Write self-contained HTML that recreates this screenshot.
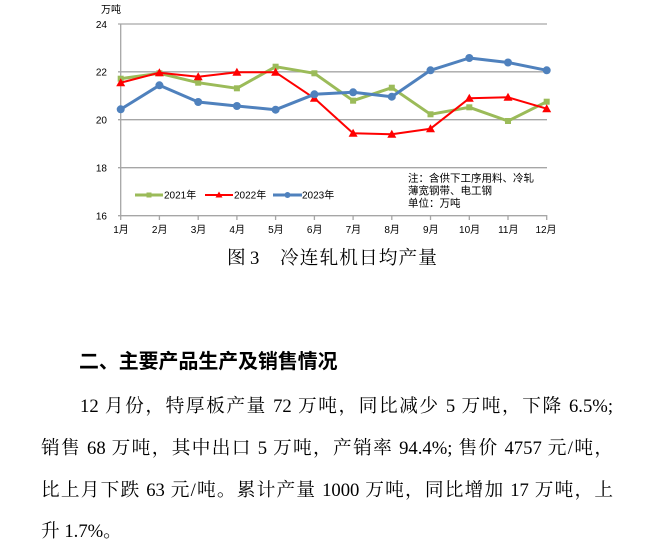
<!DOCTYPE html>
<html><head><meta charset="utf-8">
<style>
html,body{margin:0;padding:0;background:#fff;}
body{width:647px;height:549px;position:relative;overflow:hidden;}
.t{position:absolute;font-family:"Liberation Serif","Noto Serif CJK SC",serif;font-size:18.67px;line-height:20px;color:#000;white-space:nowrap;}
.j{text-align:justify;text-align-last:justify;white-space:normal;}
.h{position:absolute;left:79px;top:351px;font-family:"Liberation Sans","Noto Sans CJK SC",sans-serif;font-weight:bold;font-size:19.9px;line-height:22px;color:#000;white-space:nowrap;}
</style></head>
<body>
<svg width="647" height="280" style="position:absolute;left:0;top:0" xmlns="http://www.w3.org/2000/svg">
<g stroke="#a6a6a6" stroke-width="1.3" fill="none">
<line x1="118" y1="24" x2="547" y2="24"/>
<line x1="118" y1="71.8" x2="547" y2="71.8"/>
<line x1="118" y1="119.7" x2="547" y2="119.7"/>
<line x1="118" y1="167.7" x2="547" y2="167.7"/>
<line x1="118" y1="215.7" x2="547" y2="215.7"/>
<line x1="120.7" y1="24" x2="120.7" y2="216"/>
<line x1="120.7" y1="215" x2="120.7" y2="220"/>
<line x1="159.4" y1="215" x2="159.4" y2="220"/>
<line x1="198.2" y1="215" x2="198.2" y2="220"/>
<line x1="236.9" y1="215" x2="236.9" y2="220"/>
<line x1="275.6" y1="215" x2="275.6" y2="220"/>
<line x1="314.4" y1="215" x2="314.4" y2="220"/>
<line x1="353.1" y1="215" x2="353.1" y2="220"/>
<line x1="391.8" y1="215" x2="391.8" y2="220"/>
<line x1="430.5" y1="215" x2="430.5" y2="220"/>
<line x1="469.3" y1="215" x2="469.3" y2="220"/>
<line x1="508" y1="215" x2="508" y2="220"/>
<line x1="546.7" y1="215" x2="546.7" y2="220"/>
</g>
<g font-family="Liberation Sans,Noto Sans CJK SC,sans-serif" font-size="10" fill="#000" text-anchor="end">
<text x="107" y="28">24</text>
<text x="107" y="75.5">22</text>
<text x="107" y="123.5">20</text>
<text x="107" y="171.5">18</text>
<text x="107" y="219.5">16</text>
</g>
<text x="101" y="13" font-family="Liberation Sans,Noto Sans CJK SC,sans-serif" font-size="10">万吨</text>
<g font-family="Liberation Sans,Noto Sans CJK SC,sans-serif" font-size="10" fill="#000" text-anchor="middle">
<text x="121" y="233">1月</text>
<text x="159.7" y="233">2月</text>
<text x="198.5" y="233">3月</text>
<text x="237.2" y="233">4月</text>
<text x="275.9" y="233">5月</text>
<text x="314.7" y="233">6月</text>
<text x="353.4" y="233">7月</text>
<text x="392.1" y="233">8月</text>
<text x="430.8" y="233">9月</text>
<text x="469.6" y="233">10月</text>
<text x="508.3" y="233">11月</text>
<text x="546" y="233">12月</text>
</g>
<!-- 2021 green -->
<polyline fill="none" stroke="#9bbb59" stroke-width="3" stroke-linejoin="round" points="120.7,78.7 159.4,73.3 198.2,82.7 236.9,88.3 275.6,66.7 314.4,73.3 353.1,100.7 391.8,87.7 430.5,114.3 469.3,107.3 508,121 546.7,101.7"/>
<g fill="#9bbb59">
<rect x="117.7" y="75.7" width="6" height="6"/>
<rect x="156.4" y="70.3" width="6" height="6"/>
<rect x="195.2" y="79.7" width="6" height="6"/>
<rect x="233.9" y="85.3" width="6" height="6"/>
<rect x="272.6" y="63.7" width="6" height="6"/>
<rect x="311.4" y="70.3" width="6" height="6"/>
<rect x="350.1" y="97.7" width="6" height="6"/>
<rect x="388.8" y="84.7" width="6" height="6"/>
<rect x="427.5" y="111.3" width="6" height="6"/>
<rect x="466.3" y="104.3" width="6" height="6"/>
<rect x="505" y="118" width="6" height="6"/>
<rect x="543.7" y="98.7" width="6" height="6"/>
</g>
<!-- 2022 red -->
<polyline fill="none" stroke="#ff0000" stroke-width="2" stroke-linejoin="round" points="120.7,82.7 159.4,72.7 198.2,76.7 236.9,72.3 275.6,72.3 314.4,98.3 353.1,133.3 391.8,134.3 430.5,128.7 469.3,98.3 508,97.3 546.7,108.7"/>
<g fill="#ff0000">
<polygon points="120.7,78.2 116.2,86.2 125.2,86.2"/>
<polygon points="159.4,68.2 154.9,76.2 163.9,76.2"/>
<polygon points="198.2,72.2 193.7,80.2 202.7,80.2"/>
<polygon points="236.9,67.8 232.4,75.8 241.4,75.8"/>
<polygon points="275.6,67.8 271.1,75.8 280.1,75.8"/>
<polygon points="314.4,93.8 309.9,101.8 318.9,101.8"/>
<polygon points="353.1,128.8 348.6,136.8 357.6,136.8"/>
<polygon points="391.8,129.8 387.3,137.8 396.3,137.8"/>
<polygon points="430.5,124.2 426,132.2 435,132.2"/>
<polygon points="469.3,93.8 464.8,101.8 473.8,101.8"/>
<polygon points="508,92.8 503.5,100.8 512.5,100.8"/>
<polygon points="546.7,104.2 542.2,112.2 551.2,112.2"/>
</g>
<!-- 2023 blue -->
<polyline fill="none" stroke="#4f81bd" stroke-width="3" stroke-linejoin="round" points="120.7,109.3 159.4,85.3 198.2,102 236.9,106 275.6,109.7 314.4,94.3 353.1,92.3 391.8,96.7 430.5,70.3 469.3,58 508,62.5 546.7,70.3"/>
<g fill="#4f81bd">
<circle cx="120.7" cy="109.3" r="4"/>
<circle cx="159.4" cy="85.3" r="4"/>
<circle cx="198.2" cy="102" r="4"/>
<circle cx="236.9" cy="106" r="4"/>
<circle cx="275.6" cy="109.7" r="4"/>
<circle cx="314.4" cy="94.3" r="4"/>
<circle cx="353.1" cy="92.3" r="4"/>
<circle cx="391.8" cy="96.7" r="4"/>
<circle cx="430.5" cy="70.3" r="4"/>
<circle cx="469.3" cy="58" r="4"/>
<circle cx="508" cy="62.5" r="4"/>
<circle cx="546.7" cy="70.3" r="4"/>
</g>
<!-- legend -->
<line x1="135" y1="195" x2="163" y2="195" stroke="#9bbb59" stroke-width="3"/>
<rect x="146.5" y="192.5" width="5" height="5" fill="#9bbb59"/>
<line x1="205" y1="195" x2="233" y2="195" stroke="#ff0000" stroke-width="2"/>
<polygon points="219,191.5 215.5,197.5 222.5,197.5" fill="#ff0000"/>
<line x1="273" y1="195" x2="302" y2="195" stroke="#4f81bd" stroke-width="3"/>
<circle cx="287.5" cy="195" r="3" fill="#4f81bd"/>
<g font-family="Liberation Sans,Noto Sans CJK SC,sans-serif" font-size="10" fill="#000">
<text x="164" y="198.5">2021年</text>
<text x="234" y="198.5">2022年</text>
<text x="302" y="198.5">2023年</text>
</g>
<g font-family="Noto Sans CJK SC,sans-serif" font-size="10.5" fill="#000">
<text x="408" y="181.5">注：含供下工序用料、冷轧</text>
<text x="408" y="194">薄宽钢带、电工钢</text>
<text x="408" y="206.5">单位：万吨</text>
</g>
<g font-family="Liberation Serif,Noto Serif CJK SC,serif" font-size="18.67" fill="#000">
<text x="227" y="264">图</text>
<text x="250" y="264">3</text>
<text x="280" y="264" letter-spacing="1.1">冷连轧机日均产量</text>
</g>
</svg>

<div class="h">二、主要产品生产及销售情况</div>

<div class="t j" style="left:80px;top:397px;width:533px;">12 月份，特厚板产量 72 万吨，同比减少 5 万吨，下降 6.5%;</div>
<div class="t j" style="left:41px;top:439px;width:572px;">销售 68 万吨，其中出口 5 万吨，产销率 94.4%; 售价 4757 元/吨，</div>
<div class="t j" style="left:41px;top:481px;width:572px;">比上月下跌 63 元/吨。累计产量 1000 万吨，同比增加 17 万吨，上</div>
<div class="t" style="left:41px;top:522px;">升 1.7%。</div>
</body></html>
